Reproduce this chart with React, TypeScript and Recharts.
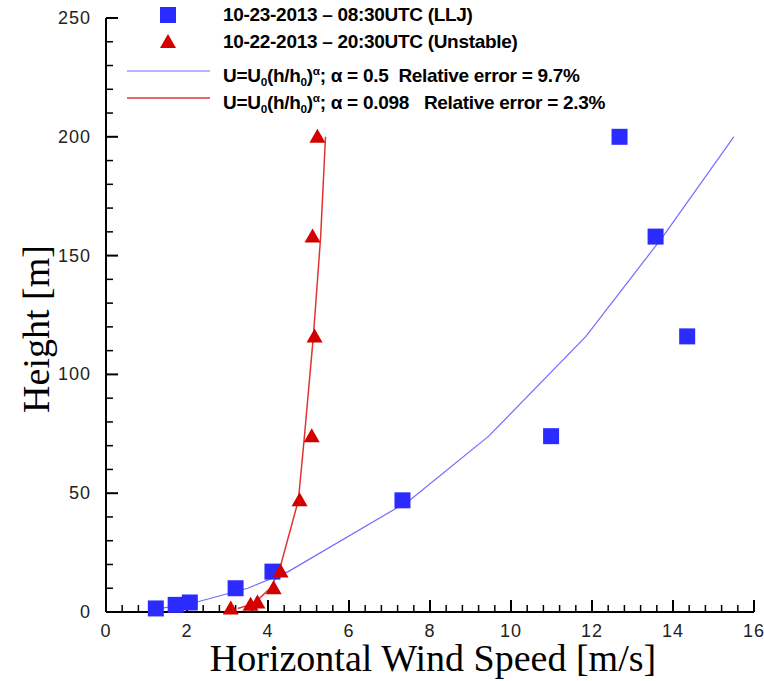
import { ScatterChart, Scatter, XAxis, YAxis } from "recharts"

// measurement heights [m], shared by both profiles
const heights = [1.5, 3, 4, 10, 17, 47, 74, 116, 158, 200]
// wind speeds [m/s]
const lljSpeed = [1.23, 1.72, 2.07, 3.2, 4.11, 7.32, 10.99, 14.35, 13.57, 12.68]
const unstableSpeed = [3.08, 3.57, 3.74, 4.14, 4.31, 4.78, 5.08, 5.15, 5.1, 5.22]
// power-law fits
const lljFit = [1.35, 1.9, 2.2, 3.5, 4.5, 7.5, 9.45, 11.85, 13.75, 15.5]
const unstableFit = [3.25, 3.55, 3.68, 4.05, 4.27, 4.75, 4.9, 5.12, 5.3, 5.42]

// axis ticks: labelled every 2 m/s and 50 m, minor every 0.4 m/s and 10 m
const xMajor = [0, 2, 4, 6, 8, 10, 12, 14, 16]
const yMajor = [0, 50, 100, 150, 200, 250]
const xMinor = Array.from({ length: 41 }, (_, i) => Math.round(i * 4) / 10).filter((v) => !xMajor.includes(v))
const yMinor = Array.from({ length: 26 }, (_, i) => i * 10).filter((v) => !yMajor.includes(v))

const xTitle = "Horizontal Wind Speed [m/s]"
const yTitle = "Height [m]"
const legendLabels = [
  "10-23-2013 \u2013 08:30UTC (LLJ)",
  "10-22-2013 \u2013 20:30UTC (Unstable)",
]
const fitAlphas = ["0.5", "0.098"]
const fitErrors = ["9.7%", "2.3%"]

const BLUE = "#2b2bff"
const BLUE_LINE = "#6e6eff"
const RED = "#d40000"
const RED_LINE = "#e03434"

const toPoints = (xs: number[]) => heights.map((h, i) => ({ x: xs[i], y: h }))

function YTick(props: any) {
  const { x, y, payload } = props
  return (
    <text x={x - 15} y={y + 6} textAnchor="end" fontFamily="'Liberation Sans', Arial, sans-serif" fontSize={18} letterSpacing={1} fill="#222">
      {payload.value}
    </text>
  )
}

function XTick(props: any) {
  const { x, y, payload } = props
  return (
    <text x={x} y={y + 25} textAnchor="middle" fontFamily="'Liberation Sans', Arial, sans-serif" fontSize={18} letterSpacing={1} fill="#222">
      {payload.value}
    </text>
  )
}

// inward tick marks, placed through the chart scales
const xMark = (len: number, w: number) => (p: any) =>
  <rect x={p.cx - w / 2} y={p.cy - len} width={w} height={len} fill="#000" />
const yMark = (len: number, w: number) => (p: any) =>
  <rect x={p.cx} y={p.cy - w / 2} width={len} height={w} fill="#000" />

const noDot = () => <g />

const squareDot = (p: any) => <rect x={p.cx - 8} y={p.cy - 8} width={16} height={16} fill={BLUE} />

const triangleDot = (p: any) => (
  <polygon points={`${p.cx},${p.cy - 8} ${p.cx + 8},${p.cy + 6} ${p.cx - 8},${p.cy + 6}`} fill={RED} />
)

const serif = "'Liberation Serif', 'Times New Roman', serif"

// legend and axis titles sit behind the transparent chart svg
function Backdrop() {
  const text = {
    position: "absolute" as const,
    left: 223,
    fontFamily: "'Liberation Sans', Arial, sans-serif",
    fontWeight: 700,
    fontSize: 19,
    letterSpacing: -0.3,
    lineHeight: "22px",
    whiteSpace: "pre" as const,
    color: "#000",
  }
  const sub = { fontSize: "0.62em", verticalAlign: "-0.3em" }
  const sup = { fontSize: "0.62em", verticalAlign: "0.6em" }
  const rowY = [15, 42, 71, 98]
  return (
    <div style={{ position: "absolute", left: 0, top: 0, width: 764, height: 681 }}>
      <svg width={764} height={681} style={{ position: "absolute", left: 0, top: 0 }}>
        <rect x={160} y={rowY[0] - 8} width={16} height={16} fill={BLUE} />
        <polygon points={`168,${rowY[1] - 8} 176,${rowY[1] + 6} 160,${rowY[1] + 6}`} fill={RED} />
        <line x1={127} x2={210} y1={rowY[2]} y2={rowY[2]} stroke={BLUE_LINE} strokeWidth={1.2} />
        <line x1={127} x2={210} y1={rowY[3]} y2={rowY[3]} stroke={RED_LINE} strokeWidth={1.5} />
        <text x={433} y={671} textAnchor="middle" fontFamily={serif} fontSize={38} fill="#000">
          {xTitle}
        </text>
        <text x={49} y={329} transform="rotate(-90 49 329)" textAnchor="middle" fontFamily={serif} fontSize={38} fill="#000">
          {yTitle}
        </text>
      </svg>
      {legendLabels.map((l, i) => (
        <div key={l} style={{ ...text, top: rowY[i] - 11 }}>
          {l}
        </div>
      ))}
      {fitAlphas.map((a, i) => (
        <div key={a} style={{ ...text, top: rowY[i + 2] - 11 }}>
          U=U<span style={sub}>0</span>(h/h<span style={sub}>0</span>)<span style={sup}>{"\u03b1"}</span>; {"\u03b1"} = {a}
          {i === 0 ? "  " : "   "}Relative error = {fitErrors[i]}
        </div>
      ))}
    </div>
  )
}

export default function App() {
  return (
    <div style={{ position: "absolute", left: 0, top: 0, width: 764, height: 681, background: "#fff" }}>
      <Backdrop />
      <div style={{ position: "absolute", left: 0, top: 0 }}>
        <ScatterChart width={764} height={681} margin={{ top: 18, right: 10, left: 0, bottom: 0 }}>
          <XAxis
            type="number"
            dataKey="x"
            domain={[0, 16]}
            ticks={xMajor}
            interval={0}
            height={69}
            tickSize={0}
            tickMargin={0}
            tickLine={false}
            tick={<XTick />}
            axisLine={{ stroke: "#000", strokeWidth: 2 }}
          />
          <YAxis
            type="number"
            dataKey="y"
            domain={[0, 250]}
            ticks={yMajor}
            interval={0}
            width={106}
            tickSize={0}
            tickMargin={0}
            tickLine={false}
            tick={<YTick />}
            axisLine={{ stroke: "#000", strokeWidth: 2 }}
          />
          <Scatter data={xMajor.map((v) => ({ x: v, y: 0 }))} shape={xMark(12, 2)} isAnimationActive={false} />
          <Scatter data={xMinor.map((v) => ({ x: v, y: 0 }))} shape={xMark(7, 1.5)} isAnimationActive={false} />
          <Scatter data={yMajor.map((v) => ({ x: 0, y: v }))} shape={yMark(12, 2)} isAnimationActive={false} />
          <Scatter data={yMinor.map((v) => ({ x: 0, y: v }))} shape={yMark(7, 1.5)} isAnimationActive={false} />
          <Scatter data={toPoints(lljFit)} line={{ stroke: BLUE_LINE, strokeWidth: 1.2 }} shape={noDot} isAnimationActive={false} />
          <Scatter data={toPoints(unstableFit)} line={{ stroke: RED_LINE, strokeWidth: 1.5 }} shape={noDot} isAnimationActive={false} />
          <Scatter data={toPoints(lljSpeed)} shape={squareDot} isAnimationActive={false} />
          <Scatter data={toPoints(unstableSpeed)} shape={triangleDot} isAnimationActive={false} />
        </ScatterChart>
      </div>
    </div>
  )
}
